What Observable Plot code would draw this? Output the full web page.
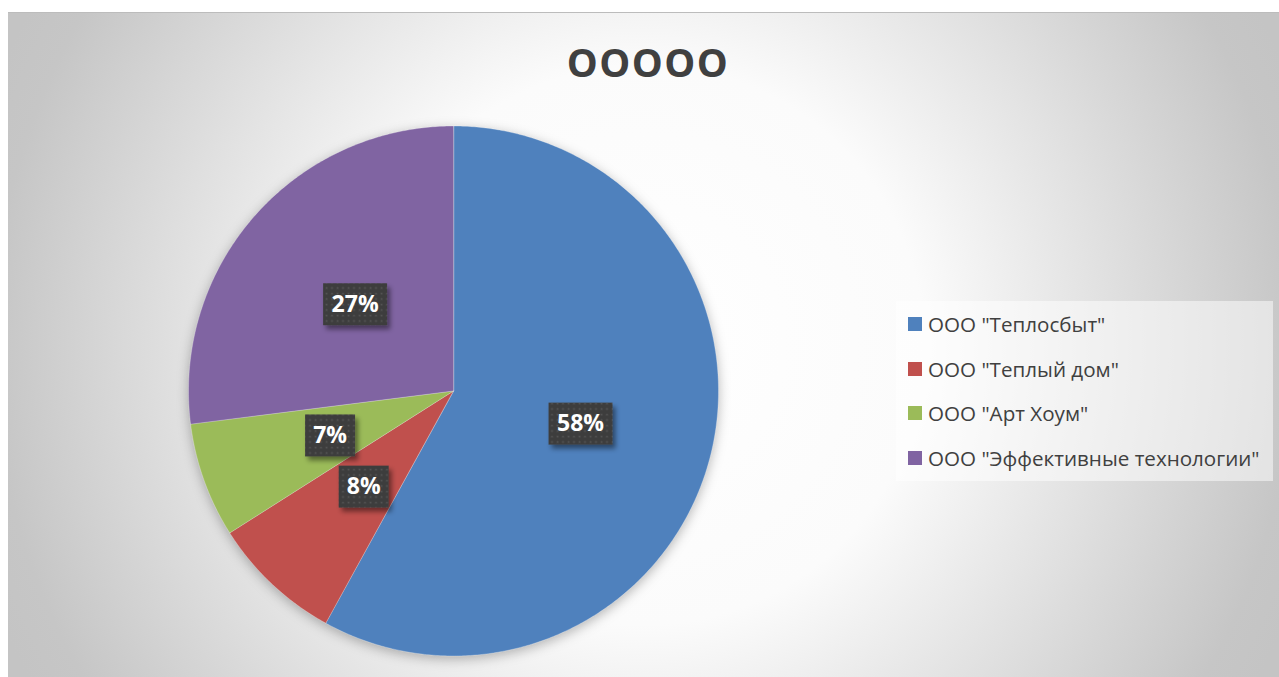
<!DOCTYPE html>
<html><head><meta charset="utf-8">
<script src="https://cdn.jsdelivr.net/npm/d3@7"></script>
<script src="https://cdn.jsdelivr.net/npm/@observablehq/plot@0.6"></script>
<style>
html,body{margin:0;padding:0;background:#fff;}
#wrap{position:relative;width:1279px;height:677px;overflow:hidden;background:#fff;font-family:"Open Sans",sans-serif;}
#frame{position:absolute;left:8px;top:12px;width:1271px;height:665px;box-sizing:border-box;border-top:1px solid #bcbcbc;
  background:radial-gradient(circle 700px at 50% 50%, #ffffff 0%, #fbfbfb 40%, #c6c6c6 93%, #c4c4c4 100%);}
#title{position:absolute;left:17px;width:1262px;top:42px;height:40px;line-height:40px;font-size:39px;letter-spacing:1.5px;font-weight:700;color:#404040;text-align:center;}
#chart{position:absolute;left:0;top:0;}
#chart g[aria-label="line"]{filter:drop-shadow(0px 3px 6px rgba(0,0,0,0.28));}
#legend{position:absolute;left:896px;top:301px;width:377px;height:180px;background:rgba(255,255,255,0.5);box-sizing:border-box;padding-top:1px;}
.row{height:44.5px;display:flex;align-items:center;padding-left:12px;font-size:20.6px;color:#404040;white-space:nowrap;}
.sw{width:14px;height:14px;margin-right:6px;flex:none;}
</style></head>
<body>
<div id="wrap">
  <div id="frame"></div>
  <div id="title">OOOOO</div>
  <div id="chart"></div>
  <div id="legend"></div>
</div>
<script>
const names = ['ООО "Теплосбыт"', 'ООО "Теплый дом"', 'ООО "Арт Хоум"', 'ООО "Эффективные технологии"'];
const shares = [58, 8, 7, 27];
const colors = ["#4f81bd", "#c0504d", "#9bbb59", "#8064a2"];

const total = d3.sum(shares);
const arcs = d3.pie().sort(null).value(d => d)(shares);

const wedgePts = arcs.flatMap((a, i) => {
  const n = Math.max(2, Math.ceil((a.endAngle - a.startAngle) / (Math.PI / 360)));
  const pts = [{name: names[i], x: 0, y: 0}];
  for (let k = 0; k <= n; k++) {
    const t = a.startAngle + (a.endAngle - a.startAngle) * k / n;
    pts.push({name: names[i], x: Math.sin(t), y: Math.cos(t)});
  }
  return pts;
});

const labelPts = arcs.map((a, i) => {
  const t = (a.startAngle + a.endAngle) / 2;
  return {name: names[i], x: 0.495 * Math.sin(t), y: 0.495 * Math.cos(t),
          label: Math.round(a.value / total * 100) + "%"};
});

const ns = "http://www.w3.org/2000/svg";
function boxRender(index, scales, values, dimensions, context, next) {
  const g = next(index, scales, values, dimensions, context);
  const doc = context.document;
  const bg = doc.createElementNS(ns, "g");
  for (const i of index) {
    const w = labelPts[i].label.length > 2 ? 64 : 50;
    const h = 42;
    const r = doc.createElementNS(ns, "rect");
    r.setAttribute("x", values.x[i] - w / 2);
    r.setAttribute("y", values.y[i] - h / 2);
    r.setAttribute("width", w);
    r.setAttribute("height", h);
    r.setAttribute("fill", "url(#dots)");
    r.setAttribute("filter", "url(#boxshadow)");
    bg.appendChild(r);
  }
  g.insertBefore(bg, g.firstChild);
  return g;
}

const chart = Plot.plot({
  width: 1279, height: 677, margin: 0,
  x: {domain: [-1, 1], range: [188, 718], axis: null},
  y: {domain: [-1, 1], range: [655.5, 125.5], axis: null},
  color: {domain: names, range: colors},
  style: {background: "transparent", overflow: "visible"},
  marks: [
    Plot.line(wedgePts, {x: "x", y: "y", z: "name", fill: "name", stroke: "#ffffff",
      strokeOpacity: 0.35, strokeWidth: 0.8, curve: "linear-closed"}),
    Plot.text(labelPts, {x: "x", y: "y", text: "label", fill: "white", fontSize: 23,
      fontWeight: 700, fontFamily: "Open Sans", render: boxRender})
  ]
});

const defs = document.createElementNS(ns, "defs");
defs.innerHTML = `
  <pattern id="dots" width="5.5" height="5.5" patternUnits="userSpaceOnUse">
    <rect width="5.5" height="5.5" fill="#3e3e3e"></rect>
    <circle cx="1.5" cy="1.5" r="0.9" fill="#565656"></circle>
  </pattern>
  <filter id="boxshadow" x="-30%" y="-30%" width="170%" height="180%">
    <feDropShadow dx="3" dy="4" stdDeviation="2.5" flood-color="#000" flood-opacity="0.45"></feDropShadow>
  </filter>`;
chart.insertBefore(defs, chart.firstChild);
document.getElementById("chart").appendChild(chart);

const legend = d3.select("#legend");
names.forEach((n, i) => {
  const row = legend.append("div").attr("class", "row");
  row.append("span").attr("class", "sw").style("background", colors[i]);
  row.append("span").text(n);
});
</script>
</body></html>
